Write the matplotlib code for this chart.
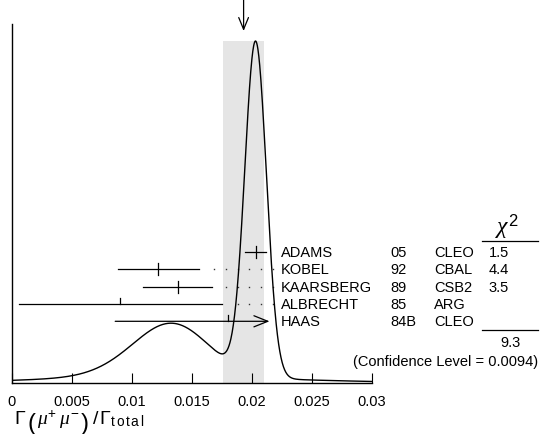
import numpy as np
import matplotlib
matplotlib.use("Agg")
import matplotlib.pyplot as plt

plt.rcParams['font.family'] = ['Liberation Sans', 'DejaVu Sans']
plt.rcParams['mathtext.fontset'] = 'custom'
plt.rcParams['mathtext.rm'] = 'Liberation Sans'
plt.rcParams['mathtext.it'] = 'Liberation Serif:italic'
plt.rcParams['mathtext.bf'] = 'Liberation Sans:bold'

# ---------------- data ----------------
authors = ['ADAMS', 'KOBEL', 'KAARSBERG', 'ALBRECHT', 'HAAS']
years = ['05', '92', '89', '85', '84B']
experiments = ['CLEO', 'CBAL', 'CSB2', 'ARG', 'CLEO']
values = [0.0203, 0.0122, 0.0138, 0.0090, 0.0180]
errors = [0.0009, 0.0034, 0.0029, 0.0085, 0.0094]
used_in_fit = [True, True, True, False, False]
chi2 = ['1.5', '4.4', '3.5', '', '']
chi2_total = '9.3'
conf_level = '0.0094'
average = 0.0193
average_err = 0.0017
xticks = [0, 0.005, 0.01, 0.015, 0.02, 0.025, 0.03]
xtick_labels = ['0', '0.005', '0.01', '0.015', '0.02', '0.025', '0.03']
xlabel_parts = [r'$\Gamma$', '(', r'$\mu^{+}\;\mu^{-}$', ')', r'$/\,\Gamma_{\mathrm{t\,o\,t\,a\,l}}$']

# ---------------- layout ----------------
W, H = 540, 435
fig = plt.figure(figsize=(W / 100, H / 100), dpi=100)
ax_left, ax_right, ax_bot, ax_top, peak_px = 12, 372, 384, 25, 42
ax = fig.add_axes([ax_left / W, (H - ax_bot) / H, (ax_right - ax_left) / W, (ax_bot - ax_top) / H])
xmin, xmax = 0.0, 0.03
ytop = (ax_bot - ax_top) / (ax_bot - peak_px)
ax.set_xlim(xmin, xmax)
ax.set_ylim(0, ytop)

def X(px):
    return xmin + (px - ax_left) / (ax_right - ax_left) * (xmax - xmin)

def Y(px):
    return (ax_bot - px) / (ax_bot - peak_px)

# ideogram
xs = np.linspace(xmin, xmax, 1200)
curve = np.zeros_like(xs)
for v, e in zip(values, errors):
    curve += (1.0 / e) * np.exp(-0.5 * ((xs - v) / e) ** 2) / (e * np.sqrt(2 * np.pi))
curve /= curve.max()

# band
ax.fill_between([average - average_err, average + average_err], 0, 1.0,
                color='#e5e5e5', lw=0, zorder=0)
ax.plot(xs, curve, color='black', lw=1.0, zorder=3)

# arrow at top showing average
ax.annotate('', xy=(average, Y(32)), xytext=(average, Y(0)),
            arrowprops=dict(arrowstyle='->,head_length=0.85,head_width=0.35',
                            lw=0.9, color='black', shrinkA=0, shrinkB=0,
                            mutation_scale=10),
            annotation_clip=False)

# measurements
row0, drow = 252.7, 17.4
clip_hi = X(269.5)
dot_grid = np.arange(X(214), X(275), X(12 + 11.8))
tick_h = Y(ax_bot - 6)
for i, (v, e, used) in enumerate(zip(values, errors, used_in_fit)):
    y = Y(row0 + i * drow)
    lo, hi = max(v - e, X(19)), v + e
    if hi > clip_hi:
        ax.annotate('', xy=(clip_hi, y), xytext=(lo, y),
                    arrowprops=dict(arrowstyle='->,head_length=1.0,head_width=0.4',
                                    lw=0.9, color='black', shrinkA=0, shrinkB=0,
                                    mutation_scale=10),
                    annotation_clip=False)
        end = clip_hi
    else:
        ax.plot([lo, hi], [y, y], color='black', lw=0.9, zorder=4)
        end = hi
    if used:
        ax.plot([v, v], [y - tick_h, y + tick_h], color='black', lw=0.9, zorder=4)
    else:
        ax.plot([v, v], [y, y + tick_h], color='black', lw=0.9, zorder=4)
    dots = dot_grid[dot_grid > end + 0.0011]
    if hi <= clip_hi and len(dots):
        ax.plot(dots, [y] * len(dots), ls='none', marker='s', ms=1.0,
                color='#333333', mew=0, zorder=2)
    ax.text(X(281), y, authors[i], fontsize=10.5, va='center', ha='left', clip_on=False)
    ax.text(X(390), y, years[i], fontsize=10.5, va='center', ha='left', clip_on=False)
    ax.text(X(434), y, experiments[i], fontsize=10.5, va='center', ha='left', clip_on=False)
    if chi2[i]:
        ax.text(X(499), y, chi2[i], fontsize=10.5, va='center', ha='center', clip_on=False)

# chi2 header and totals
ax.text(X(507), Y(241), r'$\chi^{2}$', fontsize=17, ha='center', va='bottom', clip_on=False)
ax.plot([X(482), X(538)], [Y(242), Y(242)], color='black', lw=0.9, clip_on=False)
ax.plot([X(482), X(538)], [Y(331), Y(331)], color='black', lw=0.9, clip_on=False)
ax.text(X(521), Y(343), chi2_total, fontsize=10.5, ha='right', va='center', clip_on=False)
ax.text(X(538), Y(362.5), f'(Confidence Level = {conf_level})', fontsize=10.5,
        ha='right', va='center', clip_on=False)

# axes styling
for s in ['top', 'right']:
    ax.spines[s].set_visible(False)
ax.spines['left'].set_linewidth(1.0)
ax.spines['bottom'].set_linewidth(1.0)
ax.set_yticks([])
ax.set_xticks(xticks)
ax.set_xticklabels(xtick_labels, fontsize=10.5)
ax.tick_params(axis='x', direction='in', length=7.5, width=0.8, pad=8.0)

# x label built from pieces so the parentheses can be taller
renderer = fig.canvas.get_renderer()
cur = 14.0
base_y = 1 - 424.5 / H
gaps = [1.0, 1.5, 1.5, 3.0, 0]
for part, gap in zip(xlabel_parts, gaps):
    if part in '()':
        t = fig.text(cur / W, 1 - 424 / H, part, fontsize=17, ha='left', va='center',
                     family='Liberation Sans')
    else:
        t = fig.text(cur / W, base_y, part, fontsize=14, ha='left', va='baseline')
    bb = t.get_window_extent(renderer)
    cur = bb.x1 + gap

fig.savefig('out.png', dpi=100)
